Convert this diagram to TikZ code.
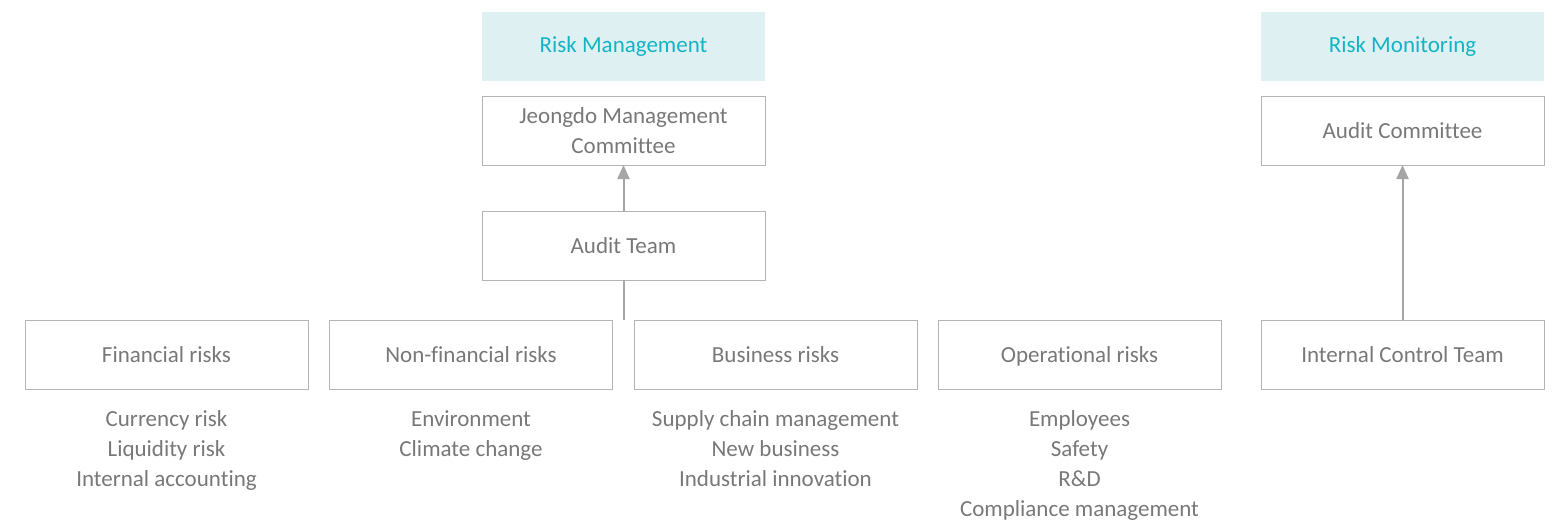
\documentclass[tikz,border=0pt]{standalone}
\usepackage{fontspec}
\setmainfont{Carlito}[Ligatures=NoCommon]
\usepackage{tikz}
\usetikzlibrary{arrows.meta}

\definecolor{headfill}{HTML}{DFF0F3}
\definecolor{headtext}{HTML}{15B4C4}
\definecolor{boxline}{HTML}{B4B4B4}
\definecolor{boxtext}{HTML}{787878}
\definecolor{arrowgray}{HTML}{A6A6A6}

\begin{document}
\begin{tikzpicture}[x=0.5pt, y=0.5pt,
    every node/.style={font=\fontsize{11.5}{15}\selectfont, text=boxtext},
    headbox/.style={fill=headfill, text=headtext, minimum width=141.5pt, minimum height=34.5pt, inner sep=0, outer sep=0},
    unitbox/.style={draw=boxline, line width=0.5pt, minimum width=141.5pt, minimum height=34.5pt, inner sep=0, outer sep=0, align=center},
    sublist/.style={anchor=north, align=center, inner sep=0},
    link/.style={draw=arrowgray, line width=1pt},
    uparrow/.style={link, -{Triangle[length=7pt, width=6pt]}}]
    \useasboundingbox (0, 0) rectangle (1559, -520);

    \node[headbox] (mgmt) at (623.5, -46.5) {Risk Management};
    \node[unitbox] (jeongdo) at (623.5, -130.5) {Jeongdo Management\\Committee};
    \node[unitbox] (audit) at (623.5, -245.5) {Audit Team};
    \coordinate (split) at (623.5, -320);

    \node[headbox] (monitor) at (1402.5, -46.5) {Risk Monitoring};
    \node[unitbox] (committee) at (1402.5, -130.5) {Audit Committee};

    \node[unitbox] (fin) at (166.5, -354.5) {Financial risks};
    \node[unitbox] (nonfin) at (471, -354.5) {Non-financial risks};
    \node[unitbox] (bus) at (775.5, -354.5) {Business risks};
    \node[unitbox, text depth=0pt] (oper) at (1079.5, -354.5) {Operational risks};
    \node[unitbox] (control) at (1402.5, -354.5) {Internal Control Team};

    \node[sublist] (finlist) at (166.5, -410) {Currency risk\\Liquidity risk\\Internal accounting};
    \node[sublist] (nonfinlist) at (471, -410) {Environment\\Climate change};
    \node[sublist] (buslist) at (775.5, -410) {Supply chain management\\New business\\Industrial innovation};
    \node[sublist] (operlist) at (1079.5, -410) {Employees\\Safety\\R\&D\\Compliance management};

    \draw[uparrow] (audit) -- (jeongdo);
    \draw[link] (audit) -- (split);
    \draw[uparrow] (control) -- (committee);
\end{tikzpicture}
\end{document}
